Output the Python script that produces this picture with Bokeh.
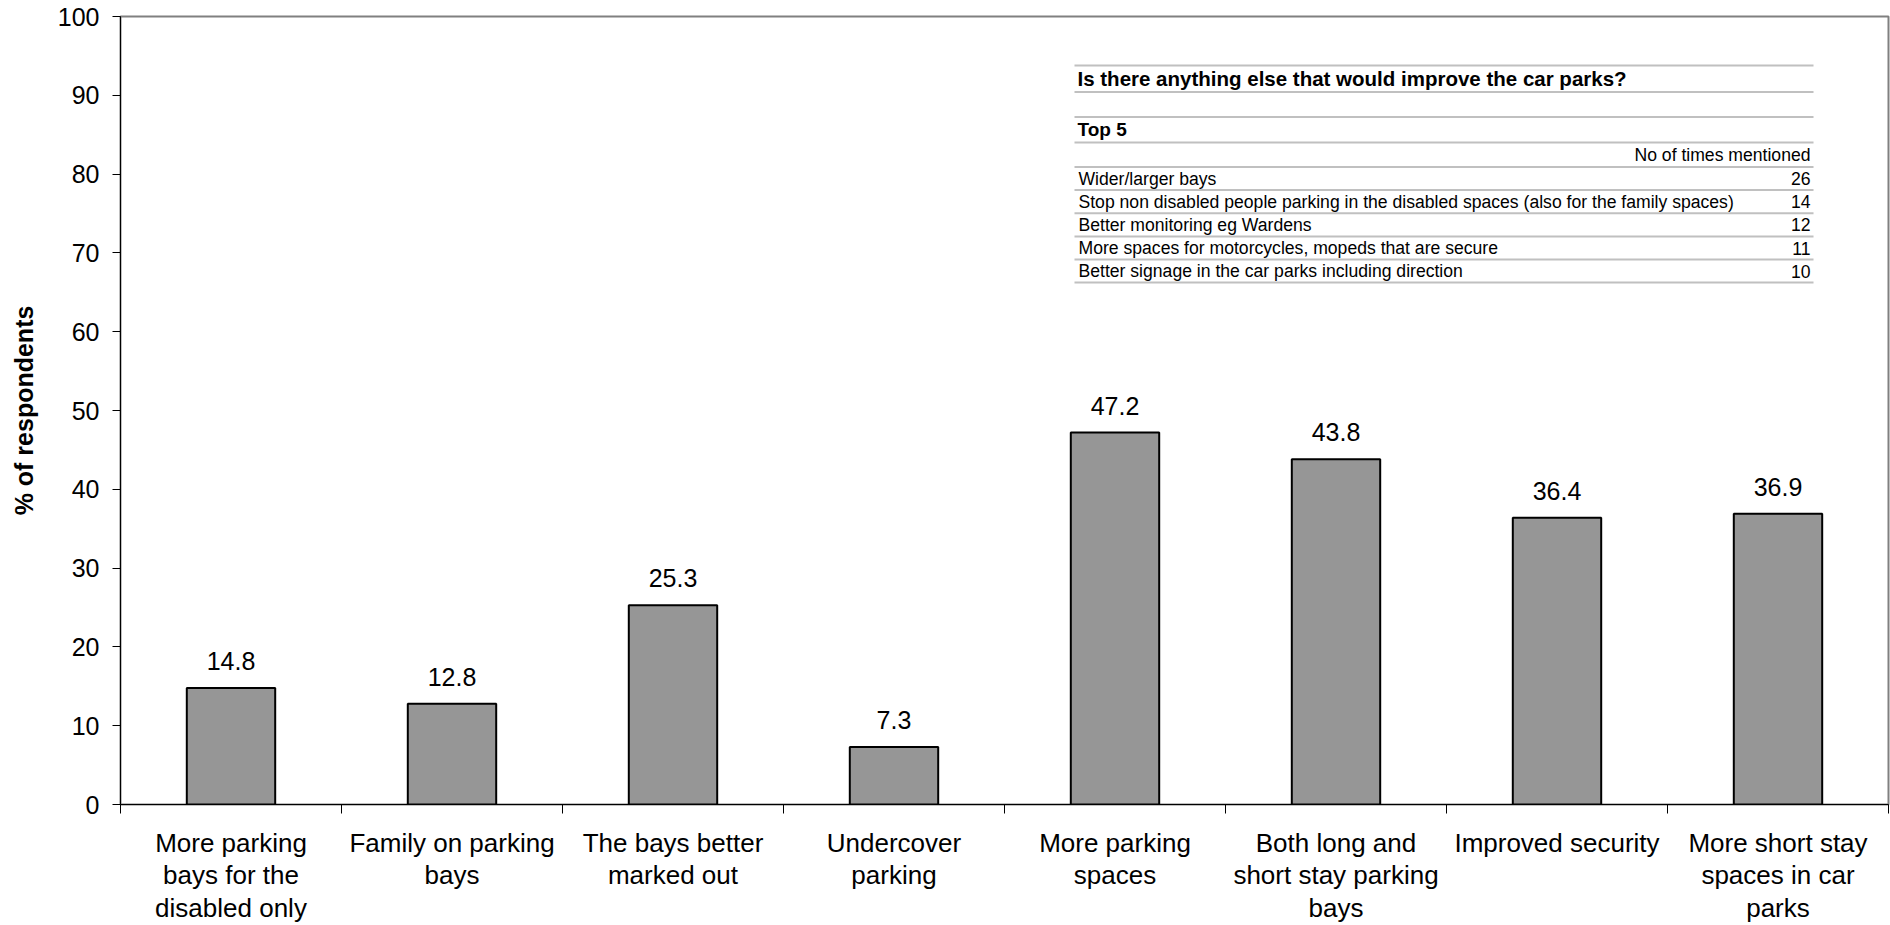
from bokeh.plotting import figure
from bokeh.models import Range1d, FixedTicker, LinearAxis
from bokeh.embed import file_html
from bokeh.resources import INLINE
from bokeh.core.properties import value

# ---- data ----
categories = [
    "More parking\nbays for the\ndisabled only",
    "Family on parking\nbays",
    "The bays better\nmarked out",
    "Undercover\nparking",
    "More parking\nspaces",
    "Both long and\nshort stay parking\nbays",
    "Improved security",
    "More short stay\nspaces in car\nparks",
]
percent = [14.8, 12.8, 25.3, 7.3, 47.2, 43.8, 36.4, 36.9]
y_ticks = [0, 10, 20, 30, 40, 50, 60, 70, 80, 90, 100]

table_title = "Is there anything else that would improve the car parks?"
table_subtitle = "Top 5"
table_count_header = "No of times mentioned"
table_items = [
    "Wider/larger bays",
    "Stop non disabled people parking in the disabled spaces (also for the family spaces)",
    "Better monitoring eg Wardens",
    "More spaces for motorcycles, mopeds that are secure",
    "Better signage in the car parks including direction",
]
table_counts = [26, 14, 12, 11, 10]

# ---- layout ----
W, H = 1890, 925
FRAME_L, FRAME_R, FRAME_T, FRAME_B = 120, 1888, 16, 804
FONT = "Liberation Sans"
n = len(categories)

x_per_px = n / (FRAME_R - FRAME_L)
y_per_px = 100 / (FRAME_B - FRAME_T)


def px_x(px):
    return (px - FRAME_L) * x_per_px


def px_y(py):
    return (FRAME_B - py) * y_per_px


p = figure(
    width=W, height=H,
    x_range=Range1d(0, n), y_range=Range1d(0, 100),
    output_backend="svg", toolbar_location=None,
    min_border_left=FRAME_L, min_border_right=W - FRAME_R,
    min_border_top=FRAME_T, min_border_bottom=H - FRAME_B,
)
p.background_fill_color = "white"
p.border_fill_color = "white"
p.outline_line_color = "#808080"
p.outline_line_width = 2
p.xgrid.visible = False
p.ygrid.visible = False

centers = [i + 0.5 for i in range(n)]
p.vbar(x=centers, top=percent, bottom=0, width=0.4,
       fill_color="#969696", line_color="black", line_width=2)

# value labels above the bars
p.text(x=centers, y=percent, text=[f"{v:.1f}" for v in percent],
       text_align="center", text_baseline="middle", y_offset=-27,
       text_font=value(FONT), text_font_size="25px", text_color="black")

# y axis
yax = p.yaxis[0]
yax.ticker = FixedTicker(ticks=y_ticks)
yax.minor_tick_line_color = None
yax.major_tick_in = 0
yax.major_tick_out = 8
yax.major_tick_line_color = "black"
yax.axis_line_color = "black"
yax.major_label_text_font = FONT
yax.major_label_text_font_size = "25px"
yax.major_label_text_color = "black"
yax.major_label_standoff = 13
yax.axis_label = "% of respondents"
yax.axis_label_text_font = FONT
yax.axis_label_text_font_size = "25px"
yax.axis_label_text_font_style = "bold"
yax.axis_label_text_color = "black"
yax.axis_label_standoff = 17

# x axis: tick marks between categories, no labels
xax = p.xaxis[0]
xax.ticker = FixedTicker(ticks=list(range(n + 1)))
xax.major_label_overrides = {i: "" for i in range(n + 1)}
xax.major_label_text_font_size = "1px"
xax.major_label_standoff = 0
xax.minor_tick_line_color = None
xax.major_tick_in = 0
xax.major_tick_out = 9
xax.major_tick_line_color = "black"
xax.axis_line_color = "black"

# second axis underneath carrying the category names at the bar centres
cat_axis = LinearAxis(
    ticker=FixedTicker(ticks=centers),
    major_label_overrides={c: name for c, name in zip(centers, categories)},
    axis_line_color=None, major_tick_line_color=None, minor_tick_line_color=None,
    major_tick_in=0, major_tick_out=0,
    major_label_text_font=FONT, major_label_text_font_size="26px",
    major_label_text_color="black", major_label_text_line_height=1.09,
    major_label_standoff=14,
)
p.add_layout(cat_axis, "below")

# ---- inset table ----
T_LEFT, T_RIGHT = 1074, 1813
row_edges = [65, 91.5, 116.5, 142, 166.5, 189.5, 212.8, 236, 259, 282]
p.segment(x0=[px_x(T_LEFT)] * len(row_edges), x1=[px_x(T_RIGHT)] * len(row_edges),
          y0=[px_y(e) for e in row_edges], y1=[px_y(e) for e in row_edges],
          line_color="#c0c0c0", line_width=2)


def row_mid(i):
    return px_y((row_edges[i] + row_edges[i + 1]) / 2)


p.text(x=[px_x(T_LEFT + 3)], y=[row_mid(0)], text=[table_title],
       text_align="left", text_baseline="middle", text_font=value(FONT),
       text_font_size="20.5px", text_font_style="bold", text_color="black")
p.text(x=[px_x(T_LEFT + 3)], y=[row_mid(2)], text=[table_subtitle],
       text_align="left", text_baseline="middle", text_font=value(FONT),
       text_font_size="19px", text_font_style="bold", text_color="black")
p.text(x=[px_x(T_RIGHT - 3)], y=[row_mid(3)], text=[table_count_header],
       text_align="right", text_baseline="middle", text_font=value(FONT),
       text_font_size="17.6px", text_color="black")
p.text(x=[px_x(T_LEFT + 4)] * len(table_items), y=[row_mid(4 + i) for i in range(len(table_items))],
       text=table_items, text_align="left", text_baseline="middle",
       text_font=value(FONT), text_font_size="17.6px", text_color="black")
p.text(x=[px_x(T_RIGHT - 3)] * len(table_counts), y=[row_mid(4 + i) for i in range(len(table_counts))],
       text=[str(c) for c in table_counts], text_align="right", text_baseline="middle",
       text_font=value(FONT), text_font_size="17.6px", text_color="black")

open("out.html", "w").write(file_html(p, INLINE))
